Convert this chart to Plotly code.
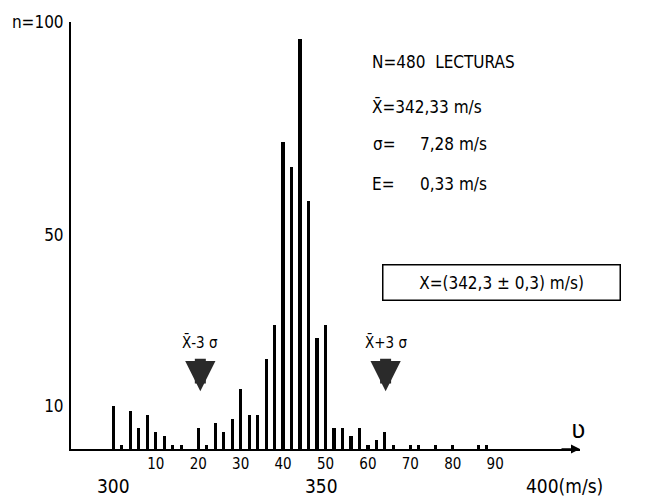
import plotly.graph_objects as go

# ---- data ----
velocity = [300, 302, 304, 306, 308, 310, 312, 314, 316, 318,
            320, 322, 324, 326, 328, 330, 332, 334, 336, 338,
            340, 342, 344, 346, 348, 350, 352, 354, 356, 358,
            360, 362, 364, 366, 368, 370, 372, 374, 376, 378,
            380, 382, 384, 386, 388]
counts = [10, 1, 9, 5, 8, 4, 3, 1, 1, 0,
          5, 1, 6, 4, 7, 14, 8, 8, 21, 29,
          72, 66, 96, 58, 26, 29, 5, 5, 3, 5,
          1, 2, 4, 1, 0, 1, 1, 0, 1, 0,
          1, 0, 0, 1, 1]
x_tick_vals = [310, 320, 330, 340, 350, 360, 370, 380, 390]
x_tick_text = ["10", "20", "30", "40", "50", "60", "70", "80", "90"]
y_tick_vals = [10, 50, 100]
y_tick_text = ["10", "50", "n=100"]
big_x_labels = [(300, "300"), (349, "350"), (400, "400(m/s)")]
N = 480
mean = 342.33
sigma = 7.28
err = 0.33

FONT = "Liberation Sans Narrow, DejaVu Sans Condensed, Liberation Sans, sans-serif"

fig = go.Figure()
fig.add_trace(go.Bar(x=velocity, y=counts, width=0.75,
                     marker=dict(color="black", line=dict(width=0))))

ann = []
# big x labels
for v, t in big_x_labels:
    ann.append(dict(x=v, y=0, xref="x", yref="y", text=t, showarrow=False,
                    xanchor="center" if t != "400(m/s)" else "left",
                    xshift=0 if t != "400(m/s)" else -14,
                    yanchor="top", yshift=-24, font=dict(size=19, family=FONT, color="black")))

def px2paper(px, py):
    return (px - 71) / 509.0, (449 - py) / 429.0

def txt(px, py, t, size=17, anchor="left"):
    xp, yp = px2paper(px, py)
    ann.append(dict(x=xp, y=yp, xref="paper", yref="paper", text=t, showarrow=False,
                    xanchor=anchor, yanchor="middle",
                    font=dict(size=size, family=FONT, color="black")))

txt(370, 60, f"N={N}\u00a0\u00a0LECTURAS")
txt(370, 105, "X\u0304=" + f"{mean:.2f}".replace(".", ",") + " m/s")
txt(371, 143, "σ=")
txt(418, 143, f"{sigma:.2f}".replace(".", ",") + " m/s")
txt(370, 183, "E=")
txt(418, 183, f"{err:.2f}".replace(".", ",") + " m/s")

# boxed result
bx, by = px2paper(501, 282)
ann.append(dict(x=bx, y=by, xref="paper", yref="paper",
                text="X=(342,3 ± 0,3) m/s)", showarrow=False,
                xanchor="center", yanchor="middle",
                width=232, height=30, borderpad=2,
                bordercolor="black", borderwidth=1.5,
                font=dict(size=17, family=FONT, color="black")))

# mean ± 3 sigma arrows
for sign, lab in [(-1, "X\u0304-3 σ"), (1, "X\u0304+3 σ")]:
    xv = mean + sign * 3 * sigma
    ann.append(dict(x=xv, y=13.5, xref="x", yref="y", text="", showarrow=True,
                    ax=0, ay=-34, arrowhead=2, arrowsize=0.55, arrowwidth=11,
                    arrowcolor="#2a2a2a"))
    ann.append(dict(x=xv, y=25, xref="x", yref="y", text=lab, showarrow=False,
                    xanchor="center", yanchor="middle",
                    font=dict(size=15, family=FONT, color="black")))

# x axis arrow head and variable symbol
ann.append(dict(x=410, y=0, xref="x", yref="y", text="", showarrow=True,
                ax=-20, ay=0, arrowhead=2, arrowsize=1.2, arrowwidth=1.5,
                arrowcolor="black"))
xp, yp = px2paper(578, 430)
ann.append(dict(x=xp, y=yp, xref="paper", yref="paper", text="ʋ", showarrow=False,
                xanchor="center", yanchor="middle",
                font=dict(size=24, family="DejaVu Sans", color="black")))

fig.update_layout(
    width=645, height=498,
    margin=dict(l=71, r=65, t=20, b=49),
    plot_bgcolor="white", paper_bgcolor="white",
    showlegend=False, bargap=0,
    annotations=ann,
    xaxis=dict(range=[290, 410], showgrid=False, zeroline=False,
               showline=True, linecolor="black", linewidth=1.5,
               tickvals=x_tick_vals, ticktext=x_tick_text, ticks="",
               ticklabelstandoff=0,
               tickfont=dict(size=15, family=FONT, color="black")),
    yaxis=dict(range=[0, 100], showgrid=False, zeroline=False,
               showline=True, linecolor="black", linewidth=2,
               tickvals=y_tick_vals, ticktext=y_tick_text, ticks="",
               ticklabelstandoff=2,
               tickfont=dict(size=17, family=FONT, color="black")),
)

fig.write_html("out.html")
